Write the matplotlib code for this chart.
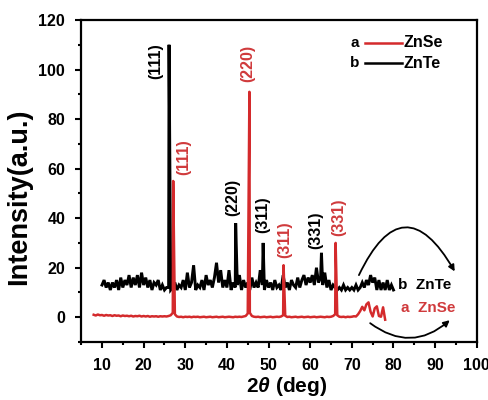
import numpy as np
import matplotlib
matplotlib.use("Agg")
import matplotlib.pyplot as plt
from matplotlib.ticker import MultipleLocator

plt.rcParams['font.family'] = ['Liberation Sans', 'DejaVu Sans']
plt.rcParams['font.weight'] = 'bold'
plt.rcParams['mathtext.fontset'] = 'custom'
plt.rcParams['mathtext.rm'] = 'Liberation Sans:bold'
plt.rcParams['mathtext.it'] = 'Liberation Sans:italic:bold'
plt.rcParams['mathtext.bf'] = 'Liberation Sans:bold'

# ---- ZnTe (b): background counts on a 0.5 deg grid, 10-80 deg ----
znte_start, znte_step = 10.0, 0.5
znte_base = [
    13, 15, 12, 14, 11, 14, 12, 15, 11, 16,      # 10.0 - 14.5
    12, 15, 13, 17, 12, 16, 13, 17, 12, 18,      # 15.0 - 19.5
    13, 16, 12, 15, 11, 14, 13, 15, 11, 13,      # 20.0 - 24.5
    11, 12, 12, 11, 12, 14, 11, 13, 12, 15,      # 25.0 - 29.5
    11, 18, 12, 14, 21, 11, 13, 12, 15, 11,      # 30.0 - 34.5
    17, 13, 15, 12, 16, 22, 14, 19, 12, 15,      # 35.0 - 39.5
    12, 19, 11, 14, 12, 13, 17, 11, 15, 12,      # 40.0 - 44.5
    14, 11, 16, 12, 14, 12, 19, 13, 11, 15,      # 45.0 - 49.5
    12, 14, 11, 15, 12, 13, 11, 17, 12, 14,      # 50.0 - 54.5
    11, 15, 13, 12, 16, 12, 15, 17, 13, 16,      # 55.0 - 59.5
    14, 17, 13, 20, 14, 16, 13, 18, 12, 15,      # 60.0 - 64.5
    11, 13, 12, 11, 12, 11, 13, 11, 12, 11,      # 65.0 - 69.5
    12, 11, 13, 11, 12, 14, 12, 15, 13, 17,      # 70.0 - 74.5
    14, 16, 11, 15, 11, 14, 11, 15, 11, 13,      # 75.0 - 79.5
    11,                                          # 80.0
]
znte_peak_pos = [26.1, 42.1, 48.7, 62.7]
znte_peak_int = [110, 38, 30, 26]
znte_hkl = ['(111)', '(220)', '(311)', '(331)']

# ---- ZnSe (a): background counts on a 0.5 deg grid, 8-78 deg ----
znse_start, znse_step = 8.0, 0.5
znse_base = [
    1.0, 0.7, 1.1, 0.8, 0.9, 0.6, 0.9, 0.7, 0.8, 0.5,   # 8.0 - 12.5
    0.8, 0.6, 0.7, 0.4, 0.7, 0.5, 0.6, 0.4, 0.6, 0.3,   # 13.0 - 17.5
    0.5, 0.4, 0.6, 0.3, 0.5, 0.3, 0.5, 0.2, 0.4, 0.3,   # 18.0 - 22.5
    0.4, 0.2, 0.4, 0.3, 0.4, 0.3, 0.5, 0.8, 1.8, 1.2,   # 23.0 - 27.5
    0.3, 0.1, 0.2, 0.0, 0.2, 0.1, 0.2, 0.0, 0.2, 0.1,   # 28.0 - 32.5
    0.2, 0.0, 0.1, 0.2, 0.0, 0.1, 0.2, 0.0, 0.1, 0.2,   # 33.0 - 37.5
    0.0, 0.1, 0.2, 0.0, 0.1, 0.2, 0.1, 0.0, 0.2, 0.1,   # 38.0 - 42.5
    0.2, 0.1, 0.3, 0.5, 1.5, 1.8, 0.5, 0.2, 0.1, 0.2,   # 43.0 - 47.5
    0.0, 0.1, 0.2, 0.0, 0.1, 0.2, 0.0, 0.1, 0.2, 0.1,   # 48.0 - 52.5
    0.3, 0.8, 0.6, 0.1, 0.2, 0.0, 0.1, 0.2, 0.0, 0.1,   # 53.0 - 57.5
    0.2, 0.0, 0.1, 0.2, 0.0, 0.1, 0.2, 0.0, 0.1, 0.2,   # 58.0 - 62.5
    0.1, 0.0, 0.2, 0.1, 0.2, 0.5, 1.2, 0.8, 0.2, 0.1,   # 63.0 - 67.5
    0.2, 0.0, 0.2, 0.1, 0.2, 0.4, 0.3, 1.2, 2.5, 4.2,   # 68.0 - 72.5
    2.8, 5.2, 6.0, 2.2, 0.3, 3.6, 4.4, 0.5, 0.2, 4.0,   # 73.0 - 77.5
    -1.0,                                               # 78.0
]
znse_peak_pos = [27.1, 45.4, 53.6, 66.1]
znse_peak_int = [55, 91, 21, 30]
znse_hkl = ['(111)', '(220)', '(311)', '(331)']

# Miller-index label anchors (data units)
znte_lbl_xy = [(23.0, 103.4), (41.4, 48.3), (48.7, 41.6), (61.3, 35.2)]
znse_lbl_xy = [(29.7, 64.6), (44.9, 102.6), (54.0, 31.5), (66.8, 40.4)]

RED = '#d42a2c'
RED_TXT = '#d03a3c'
BLACK = '#000000'


def pattern(start, step, base, pos, inten):
    """Merge the background scan with the sharp reflections."""
    x = start + step * np.arange(len(base))
    y = np.asarray(base, dtype=float)
    x = np.concatenate([x, np.asarray(pos, float)])
    y = np.concatenate([y, np.asarray(inten, float)])
    order = np.argsort(x, kind='stable')
    return x[order], y[order]


fig = plt.figure(figsize=(4.89, 4.00), dpi=100)
ax = fig.add_axes([0.166, 0.145, 0.809, 0.805])

xb, yb = pattern(znte_start, znte_step, znte_base, znte_peak_pos, znte_peak_int)
xa, ya = pattern(znse_start, znse_step, znse_base, znse_peak_pos, znse_peak_int)
ax.plot(xb, yb, color=BLACK, lw=2.1, zorder=2, solid_joinstyle='miter')
ax.plot(xa, ya, color=RED, lw=1.8, zorder=3)

for (tx, ty), s in zip(znte_lbl_xy, znte_hkl):
    ax.text(tx, ty, s, rotation=90, ha='center', va='center',
            fontsize=11.5, fontweight='bold', color=BLACK)
for (tx, ty), s in zip(znse_lbl_xy, znse_hkl):
    ax.text(tx, ty, s, rotation=90, ha='center', va='center',
            fontsize=11.5, fontweight='bold', color=RED_TXT)

# curve tags at the right end of each trace
ax.text(81.2, 12.9, 'b  ZnTe', ha='left', va='center', fontsize=11,
        fontweight='bold', color=BLACK)
ax.text(81.7, 3.6, 'a  ZnSe', ha='left', va='center', fontsize=11,
        fontweight='bold', color=RED_TXT)

# curved arrows linking the tails of the traces
ax.annotate('', xy=(94.7, 18.5), xytext=(71.7, 17.0),
            arrowprops=dict(arrowstyle='-|>', color=BLACK, lw=1.3,
                            mutation_scale=9, shrinkA=0, shrinkB=0,
                            connectionstyle='arc3,rad=-0.95'))
ax.annotate('', xy=(93.5, -1.2), xytext=(74.4, -2.4),
            arrowprops=dict(arrowstyle='-|>', color=BLACK, lw=1.3,
                            mutation_scale=9, shrinkA=0, shrinkB=0,
                            connectionstyle='arc3,rad=0.4'))

# key in the upper right corner
key = [('a', RED, 'ZnSe', 0.929), ('b', BLACK, 'ZnTe', 0.866)]
for letter, col, name, yk in key:
    ax.text(0.680, yk, letter, transform=ax.transAxes, ha='left', va='center',
            fontsize=11, fontweight='bold', color=BLACK)
    ax.plot([0.718, 0.811], [yk, yk], transform=ax.transAxes, color=col,
            lw=1.8, clip_on=False)
    ax.text(0.814, yk, name, transform=ax.transAxes, ha='left', va='center',
            fontsize=11.5, fontweight='bold', color=BLACK)

ax.set_xlim(5, 100)
ax.set_ylim(-10, 120)
ax.xaxis.set_major_locator(MultipleLocator(10))
ax.xaxis.set_minor_locator(MultipleLocator(5))
ax.yaxis.set_major_locator(MultipleLocator(20))
ax.yaxis.set_minor_locator(MultipleLocator(10))
ax.set_xticks(np.arange(10, 101, 10))
ax.tick_params(which='both', direction='out', width=1.5, top=False, right=False)
ax.tick_params(which='major', length=4.5, labelsize=11.5, pad=7)
ax.tick_params(which='minor', length=2.5)
for lab in ax.get_xticklabels() + ax.get_yticklabels():
    lab.set_fontweight('bold')
for sp in ax.spines.values():
    sp.set_linewidth(1.6)

ax.set_ylabel('Intensity(a.u.)', fontsize=19.5, fontweight='bold')
ax.yaxis.set_label_coords(-0.124, 0.45)
ax.set_xlabel(r'2$\theta$ (deg)', fontsize=15, fontweight='bold')
ax.xaxis.set_label_coords(0.52, -0.104)

fig.savefig('out.png', dpi=100)
